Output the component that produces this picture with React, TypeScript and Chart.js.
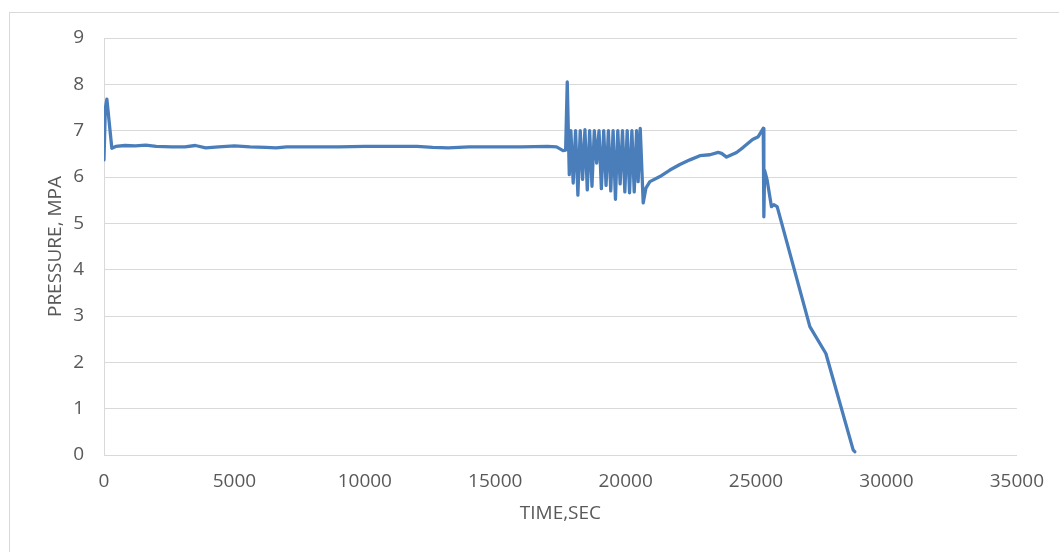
import React, { useEffect, useRef } from "react";
import { Chart, registerables } from "chart.js";

Chart.register(...registerables);

const timeSec: number[] = [
  0, 50, 110, 300, 450, 800, 1200, 1600, 2000, 2600, 3100, 3500, 3900, 4400, 5000,
  5600, 6200, 6600, 7000, 8000, 9000, 10000, 11000, 12000, 12600, 13200, 14000,
  15000, 16000, 17000, 17350, 17600, 17700, 17762,
  17840, 17900, 17990, 18080, 18170, 18260, 18350, 18440, 18530, 18620, 18710,
  18800, 18890, 18980, 19070, 19160, 19250, 19340, 19430, 19520, 19610, 19700,
  19790, 19880, 19970, 20060, 20150, 20240, 20330, 20420, 20480, 20560, 20674,
  20778, 20930, 21314, 21697, 22080, 22464, 22848, 23231, 23550, 23680, 23871,
  24254, 24510, 24867, 25085, 25277, 25300, 25330, 25420, 25592, 25682, 25810,
  27064, 27678, 28724, 28788,
];

const pressure: number[] = [
  6.37, 7.48, 7.68, 6.62, 6.66, 6.68, 6.67, 6.69, 6.66, 6.65, 6.65, 6.68, 6.63, 6.65, 6.67,
  6.65, 6.64, 6.63, 6.65, 6.65, 6.65, 6.66, 6.66, 6.66, 6.64, 6.63, 6.65,
  6.65, 6.65, 6.66, 6.65, 6.57, 6.58, 8.05,
  6.05, 7.0, 5.87, 7.0, 5.61, 7.0, 5.95, 7.02, 5.72, 7.0, 5.8,
  7.0, 6.3, 7.0, 5.75, 7.0, 5.82, 7.0, 5.7, 7.0, 5.52, 7.0,
  5.85, 7.0, 5.68, 7.0, 5.66, 7.0, 5.68, 7.0, 5.9, 7.05, 5.44,
  5.76, 5.9, 6.01, 6.15, 6.27, 6.37, 6.46, 6.48, 6.53, 6.51, 6.43,
  6.53, 6.64, 6.81, 6.87, 7.05, 5.14, 6.14, 5.95, 5.36, 5.4, 5.36,
  2.77, 2.19, 0.11, 0.07,
];

const xTicks: number[] = [0, 5000, 10000, 15000, 20000, 25000, 30000, 35000];
const yTicks: number[] = [0, 1, 2, 3, 4, 5, 6, 7, 8, 9];

const xTitle = "TIME,SEC";
const yTitle = "PRESSURE, MPA";

export default function App() {
  const ref = useRef<HTMLCanvasElement | null>(null);

  useEffect(() => {
    if (!ref.current) return;
    const font = { family: "'Open Sans', sans-serif", size: 19 };
    const textColor = "#595959";
    const gridColor = "#d9d9d9";
    const points = timeSec.map((t, i) => ({ x: t, y: pressure[i] }));
    const chart = new Chart(ref.current, {
      type: "line",
      data: {
        datasets: [
          {
            data: points,
            borderColor: "#4a7ebb",
            borderWidth: 3.3,
            borderJoinStyle: "round",
            borderCapStyle: "round",
            pointRadius: 0,
            tension: 0,
            fill: false,
          },
        ],
      },
      options: {
        animation: false,
        responsive: false,
        maintainAspectRatio: false,
        layout: { padding: { left: 0, right: 42, top: 38, bottom: 0 } },
        plugins: { legend: { display: false }, tooltip: { enabled: false } },
        scales: {
          x: {
            type: "linear",
            min: xTicks[0],
            max: xTicks[xTicks.length - 1],
            afterBuildTicks: (s: any) => {
              s.ticks = xTicks.map((v) => ({ value: v }));
            },
            afterFit: (s: any) => {
              s.height = 97;
            },
            ticks: {
              color: textColor,
              font,
              padding: 15,
              maxRotation: 0,
              autoSkip: false,
              callback: (v: any) => String(v),
            },
            grid: { display: false, drawTicks: false },
            border: { display: true, color: gridColor, width: 1 },
            title: {
              display: true,
              text: xTitle,
              color: textColor,
              font,
              padding: { top: 0, bottom: 27 },
            },
          },
          y: {
            type: "linear",
            min: yTicks[0],
            max: yTicks[yTicks.length - 1],
            afterBuildTicks: (s: any) => {
              s.ticks = yTicks.map((v) => ({ value: v }));
            },
            afterFit: (s: any) => {
              s.width = 104;
            },
            ticks: {
              color: textColor,
              font,
              padding: 20,
              autoSkip: false,
              callback: (v: any) => String(v),
            },
            grid: { color: gridColor, lineWidth: 1, drawTicks: false },
            border: { display: true, color: gridColor, width: 1 },
            title: {
              display: true,
              text: yTitle,
              color: textColor,
              font,
              padding: { top: 44, bottom: 0 },
            },
          },
        },
      },
    });
    return () => chart.destroy();
  }, []);

  return (
    <div style={{ position: "fixed", left: 0, top: 0, width: 1059, height: 552, background: "#ffffff", overflow: "hidden" }}>
      <div
        style={{
          position: "absolute",
          left: 9,
          top: 12,
          right: -2,
          bottom: -2,
          borderTop: "1px solid #d9d9d9",
          borderLeft: "1px solid #d9d9d9",
        }}
      />
      <canvas ref={ref} width={1059} height={552} style={{ position: "absolute", left: 0, top: 0, width: 1059, height: 552 }} />
    </div>
  );
}
